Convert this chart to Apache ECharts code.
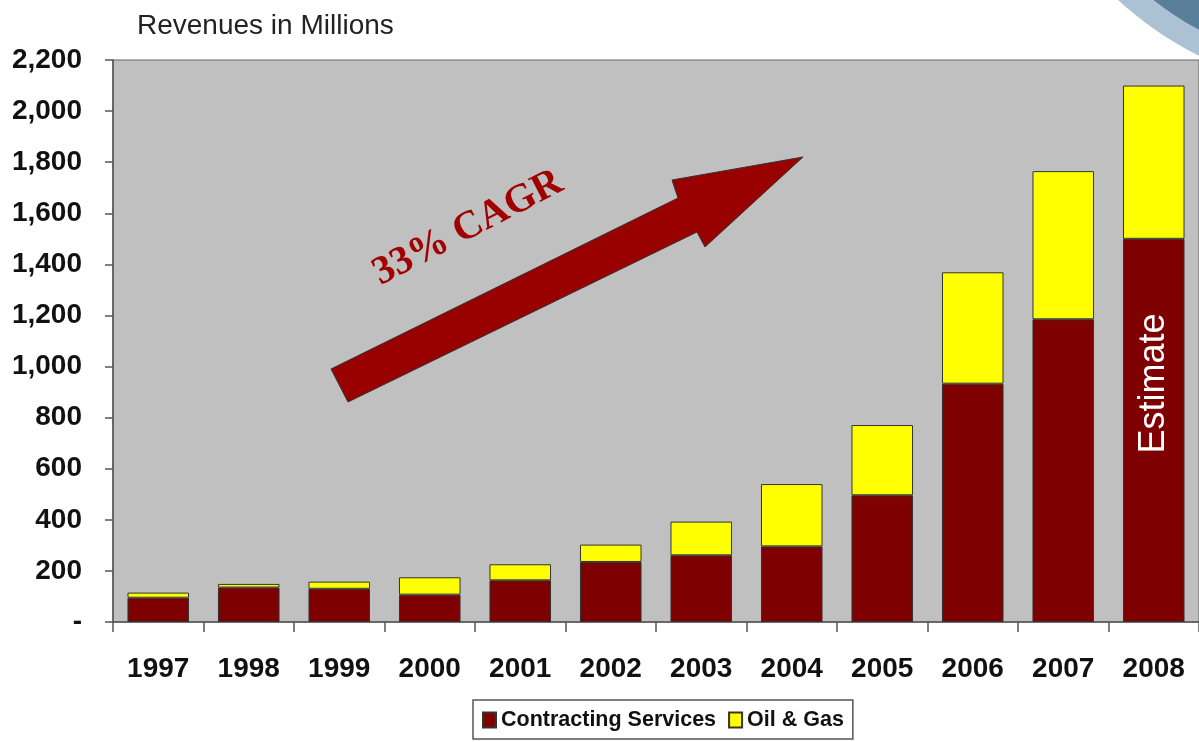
<!DOCTYPE html>
<html>
<head>
<meta charset="utf-8">
<script src="https://cdn.jsdelivr.net/npm/echarts@6/dist/echarts.min.js"></script>
<style>html,body{margin:0;padding:0;background:#fff}#c{width:1199px;height:742px}</style>
</head>
<body>
<div id="c"></div>
<script>
const years = ['1997','1998','1999','2000','2001','2002','2003','2004','2005','2006','2007','2008'];
const contracting = [95, 135, 130, 107, 163, 235, 261, 296, 496, 933, 1185, 1500];
const oilGas = [20, 14, 28, 68, 63, 68, 132, 244, 275, 436, 580, 600];
const yTicks = [0, 200, 400, 600, 800, 1000, 1200, 1400, 1600, 1800, 2000, 2200];

const chart = echarts.init(document.getElementById('c'), null, {renderer: 'canvas'});
const font = '"Liberation Sans", Arial, sans-serif';

const csData = contracting.map((v, i) => i === years.length - 1 ? {
  value: v,
  label: {show: true, position: 'inside', rotate: 90, offset: [47, 0],
    formatter: 'Estimate', color: '#fff', fontSize: 36, fontFamily: font}
} : v);

chart.setOption({
  animation: false,
  backgroundColor: '#fff',
  title: {
    text: 'Revenues in Millions', left: 132, top: 7,
    textStyle: {fontFamily: font, fontSize: 28, fontWeight: 'normal', color: '#222'}
  },
  grid: {
    left: 113, right: 0, top: 60, bottom: 120,
    show: true, backgroundColor: '#c0c0c0', borderColor: '#666', borderWidth: 1
  },
  legend: {
    left: 473, top: 700,
    data: ['Contracting Services', 'Oil & Gas'],
    icon: 'rect', itemWidth: 13, itemHeight: 15, itemGap: 12,
    backgroundColor: '#fff', borderColor: '#555', borderWidth: 1.5,
    padding: [9, 9, 8, 9],
    textStyle: {fontFamily: font, fontSize: 21.5, fontWeight: 'bold', color: '#111'}
  },
  xAxis: {
    type: 'category', data: years,
    axisLine: {lineStyle: {color: '#555', width: 1.5}},
    axisTick: {show: true, length: 10, lineStyle: {color: '#555', width: 1.5}},
    axisLabel: {margin: 33, fontFamily: font, fontSize: 28, fontWeight: 'bold', color: '#111'}
  },
  yAxis: {
    type: 'value', min: yTicks[0], max: yTicks[yTicks.length - 1], interval: 200,
    axisLine: {show: true, lineStyle: {color: '#555', width: 1.5}},
    axisTick: {show: true, length: 8, lineStyle: {color: '#555', width: 1.5}},
    splitLine: {show: false},
    axisLabel: {
      margin: 31, fontFamily: font, fontSize: 28, fontWeight: 'bold', color: '#111',
      formatter: v => v === 0 ? '-' : v.toLocaleString('en-US')
    }
  },
  series: [
    {
      name: 'Contracting Services', type: 'bar', stack: 'rev', barWidth: '68%',
      data: csData,
      itemStyle: {color: '#7f0000', borderColor: '#333', borderWidth: 1}
    },
    {
      name: 'Oil & Gas', type: 'bar', stack: 'rev', barWidth: '68%',
      data: oilGas,
      itemStyle: {color: '#ffff00', borderColor: '#333', borderWidth: 1}
    }
  ],
  graphic: [
    {type: 'circle', shape: {cx: 1350, cy: -250, r: 341}, style: {fill: '#aac2d3'}, z: -10, silent: true},
    {type: 'circle', shape: {cx: 1350, cy: -250, r: 318}, style: {fill: '#5a7f9a'}, z: -9, silent: true},
    {
      type: 'polygon', z: 10,
      shape: {points: [[331, 369], [678, 198], [672, 180], [803, 157], [705, 247], [697, 232], [348, 402]]},
      style: {fill: '#990000', stroke: '#333', lineWidth: 1}
    },
    {
      type: 'text', z: 10, x: 468, y: 228, rotation: 27.5 * Math.PI / 180,
      style: {text: '33% CAGR', fill: '#a00000', font: 'bold 40px "Liberation Serif", "Times New Roman", serif',
        align: 'center', verticalAlign: 'middle'}
    }
  ]
});
</script>
</body>
</html>
